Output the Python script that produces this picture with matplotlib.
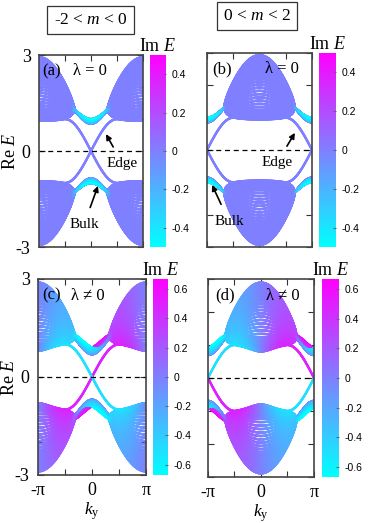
import numpy as np
import matplotlib
matplotlib.use('Agg')
import matplotlib.pyplot as plt
from matplotlib.collections import LineCollection
from matplotlib.colors import Normalize
from matplotlib.cm import ScalarMappable

plt.rcParams['font.family'] = ['Liberation Serif', 'DejaVu Serif']
plt.rcParams['mathtext.fontset'] = 'custom'
plt.rcParams['mathtext.rm'] = 'Liberation Serif'
plt.rcParams['mathtext.it'] = 'Liberation Serif:italic'

# ribbon model parameters (open boundary along x, k_y is a good quantum number)
m_values = [-1.0, 1.0]          # left column, right column
lam_values = [0.0, 0.5]         # top row, bottom row
gamma = 0.5
n_sites = 30
n_k = 401
cbar_limits = [0.5, 0.67]
cbar_ticks = [[-0.4, -0.2, 0, 0.2, 0.4], [-0.6, -0.4, -0.2, 0, 0.2, 0.4, 0.6]]
panel_labels = [['(a)', '(b)'], ['(c)', '(d)']]
lam_labels = ['λ = 0', 'λ ≠ 0']
titles = ['-2 < $m$ < 0', '0 < $m$ < 2']

sx = np.array([[0, 1], [1, 0]], dtype=complex)
sy = np.array([[0, -1j], [1j, 0]])
sz = np.array([[1, 0], [0, -1]], dtype=complex)


def spectrum(m, lam, ky):
    onsite = (m + np.cos(ky)) * sz + np.sin(ky) * sy + 1j * gamma * sx + 1j * lam * sy
    hop = 0.5 * sz - 0.5j * sx
    H = (np.kron(np.eye(n_sites), onsite)
         + np.kron(np.eye(n_sites, k=1), hop)
         + np.kron(np.eye(n_sites, k=-1), hop.conj().T))
    ev = np.linalg.eigvals(H)
    return ev[np.argsort(ev.real)]


ky = np.linspace(-np.pi, np.pi, n_k)

fig = plt.figure(figsize=(3.74, 5.23), dpi=100)

ax_pos = [[[0.1043, 0.5277, 0.278, 0.367], [0.5535, 0.5277, 0.2807, 0.371]],
          [[0.1016, 0.0918, 0.2888, 0.3748], [0.5561, 0.088, 0.2834, 0.3786]]]
cb_pos = [[[0.401, 0.5277, 0.0428, 0.367], [0.853, 0.5277, 0.0455, 0.371]],
          [[0.409, 0.0918, 0.040, 0.3748], [0.861, 0.088, 0.0455, 0.3786]]]
lab_x = [[(0.03, 0.33), (0.05, 0.55)], [(0.04, 0.31), (0.066, 0.55)]]

for r in range(2):
    for c in range(2):
        ax = fig.add_axes(ax_pos[r][c])
        ev = np.array([spectrum(m_values[c], lam_values[r], k) for k in ky])
        lim = cbar_limits[r]
        norm = Normalize(-lim, lim)
        segs = []
        vals = []
        for n in range(ev.shape[1]):
            pts = np.column_stack([ky, ev[:, n].real])
            segs.append(np.stack([pts[:-1], pts[1:]], axis=1))
            vals.append(0.5 * (ev[:-1, n].imag + ev[1:, n].imag))
        segs = np.concatenate(segs)
        vals = np.concatenate(vals)
        order = np.argsort(-vals)
        lc = LineCollection(segs[order], cmap='cool', norm=norm, linewidths=1.7,
                            capstyle='round')
        lc.set_array(vals[order])
        ax.add_collection(lc)
        ax.axhline(0, color='k', lw=0.9, ls=(0, (4, 3)))

        ax.set_xlim(-np.pi, np.pi)
        ax.set_ylim(-3, 3)
        ax.set_xticks([-np.pi, -np.pi / 2, 0, np.pi / 2, np.pi])
        ax.set_yticks([-3, -2, -1, 0, 1, 2, 3])
        ax.tick_params(direction='in', top=True, right=True, length=4, width=0.8,
                       labelsize=13, color='#333333')
        for s in ax.spines.values():
            s.set_color('#444444')
            s.set_linewidth(1.2)
        if c == 0:
            ax.set_yticklabels(['-3', '', '', '0', '', '', '3'])
            ax.tick_params(axis='y', pad=6)
            ax.set_ylabel('Re $E$', fontsize=13, labelpad=-2)
        else:
            ax.set_yticklabels([])
        if r == 1:
            ax.set_xticklabels(['-π', '', '0', '', 'π'])
            ax.tick_params(axis='x', pad=5)
            ax.set_xlabel('$k_{\\mathrm{y}}$', fontsize=12.5, va='top')
            ax.xaxis.set_label_coords(0.5, -0.128)
        else:
            ax.set_xticklabels([])

        ax.text(lab_x[r][c][0], 0.915, panel_labels[r][c], transform=ax.transAxes,
                fontsize=12, va='center', ha='left')
        ax.text(lab_x[r][c][1], 0.915, lam_labels[r], transform=ax.transAxes,
                fontsize=12, va='center', ha='left')

        cax = fig.add_axes(cb_pos[r][c])
        cb = fig.colorbar(ScalarMappable(norm=norm, cmap='cool'), cax=cax)
        cb.outline.set_visible(False)
        cb.set_ticks(cbar_ticks[r])
        cb.set_ticklabels([('%g' % t) for t in cbar_ticks[r]])
        cax.tick_params(length=2, direction='in', labelsize=7.5, pad=4, color='#666666')
        for t in cax.get_yticklabels():
            t.set_fontfamily(['Liberation Sans', 'DejaVu Sans'])
        cax.set_title('Im $E$', fontsize=13, pad=3)

        if r == 0 and c == 0:
            ax.annotate('Edge', xy=(0.906, 0.53), xytext=(1.9, -0.39), fontsize=11,
                        ha='center', va='center',
                        arrowprops=dict(arrowstyle='-|>', color='k', lw=1.2,
                                        mutation_scale=8, shrinkA=6, shrinkB=0))
            ax.annotate('Bulk', xy=(0.42, -1.09), xytext=(-0.42, -2.3), fontsize=11,
                        ha='center', va='center',
                        arrowprops=dict(arrowstyle='-|>', color='k', lw=1.2,
                                        mutation_scale=8, shrinkA=6, shrinkB=0))
        if r == 0 and c == 1:
            ax.annotate('Edge', xy=(2.12, 0.53), xytext=(1.05, -0.39), fontsize=11,
                        ha='center', va='center',
                        arrowprops=dict(arrowstyle='-|>', color='k', lw=1.2,
                                        mutation_scale=8, shrinkA=6, shrinkB=0))
            ax.annotate('Bulk', xy=(-2.84, -1.08), xytext=(-1.83, -2.2), fontsize=11,
                        ha='center', va='center',
                        arrowprops=dict(arrowstyle='-|>', color='k', lw=1.2,
                                        mutation_scale=8, shrinkA=6, shrinkB=0))

fig.text(0.242, 0.961, titles[0], fontsize=12.5, ha='center', va='center',
         bbox=dict(boxstyle='square,pad=0.35', fc='white', ec='#333333', lw=0.9))
fig.text(0.687, 0.969, titles[1], fontsize=12.5, ha='center', va='center',
         bbox=dict(boxstyle='square,pad=0.35', fc='white', ec='#333333', lw=0.9))

fig.savefig('out.png', dpi=100)
